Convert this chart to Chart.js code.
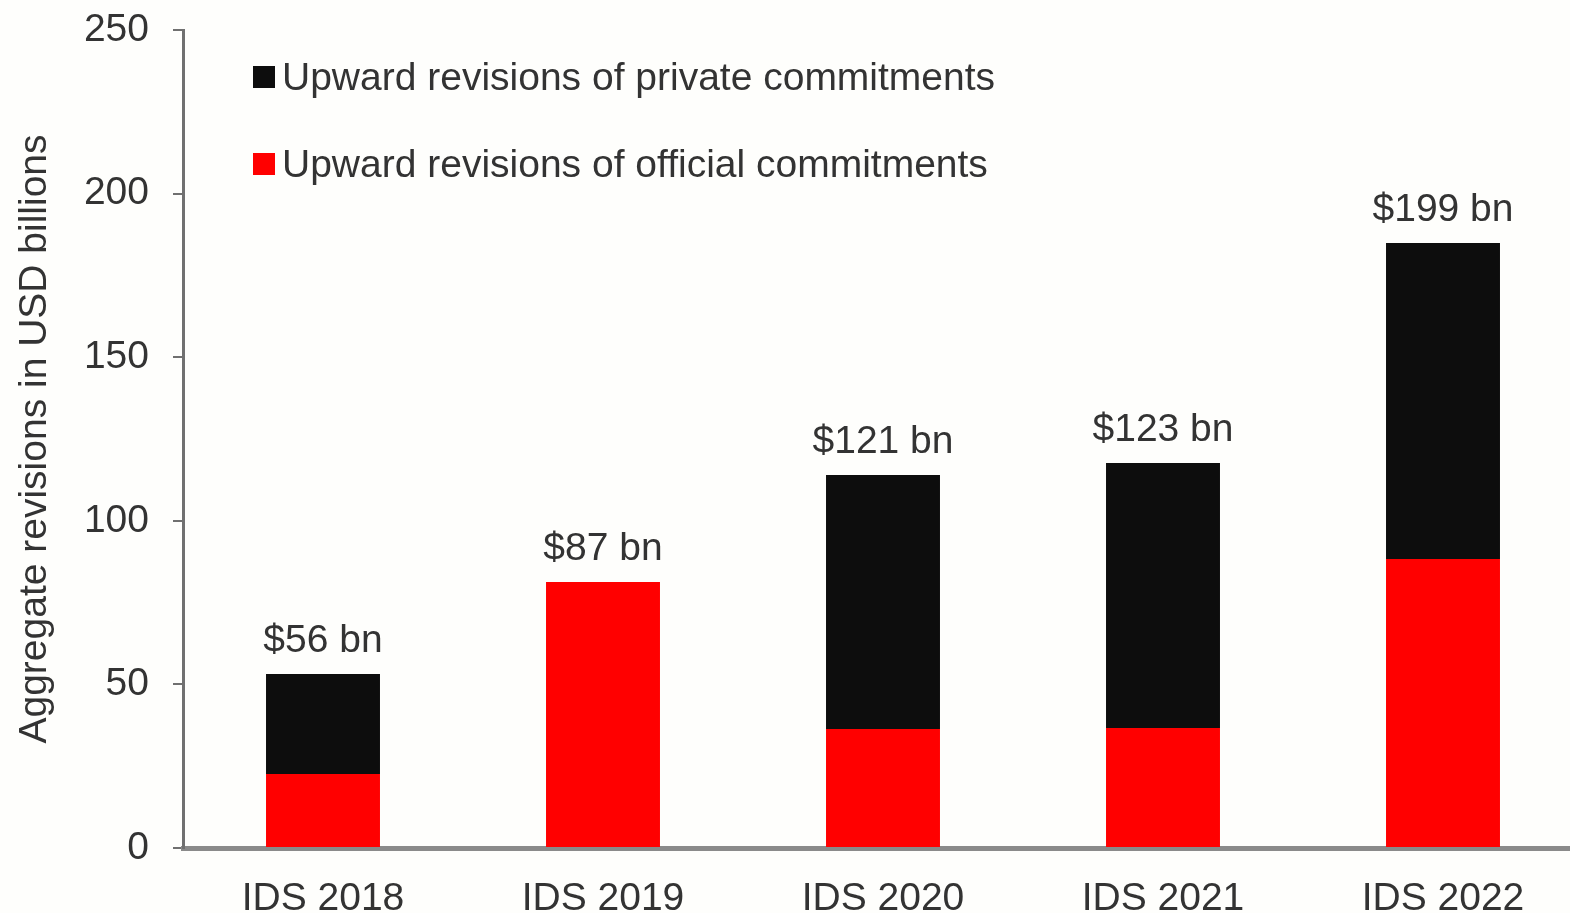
<!DOCTYPE html>
<html>
<head>
<meta charset="utf-8">
<script src="https://cdn.jsdelivr.net/npm/chart.js@4/dist/chart.umd.min.js"></script>
<style>
  html, body { margin: 0; padding: 0; background: #fefefc; overflow: hidden; }
  #wrap { width: 1583px; height: 913px; }
</style>
</head>
<body>
<div id="wrap"><canvas id="chart" width="1583" height="913"></canvas></div>
<script>
const categories = ['IDS 2018', 'IDS 2019', 'IDS 2020', 'IDS 2021', 'IDS 2022'];
const officialValues = [22.6, 81.3, 36.4, 36.7, 88.3];
const privateValues = [30.6, 0, 77.6, 81.0, 96.6];
const totalLabels = ['$56 bn', '$87 bn', '$121 bn', '$123 bn', '$199 bn'];
const yTicks = [0, 50, 100, 150, 200, 250];

const FONT = '"Liberation Sans", Arial, sans-serif';
const SIZE = 39;
const TEXT = '#333333';

// totals written above each stack
const totalsPlugin = {
    id: 'totals',
    afterDatasetsDraw(chart) {
        const { ctx, scales } = chart;
        ctx.save();
        ctx.font = SIZE + 'px ' + FONT;
        ctx.fillStyle = TEXT;
        ctx.textAlign = 'center';
        ctx.textBaseline = 'alphabetic';
        categories.forEach((c, i) => {
            const total = officialValues[i] + privateValues[i];
            const x = scales.x.getPixelForValue(i);
            const y = scales.y.getPixelForValue(total);
            ctx.fillText(totalLabels[i], x, y - 22);
        });
        ctx.restore();
    }
};

// legend sits inside the plot, top left
const legendPlugin = {
    id: 'insideLegend',
    afterDraw(chart) {
        const { ctx } = chart;
        const items = chart.data.datasets.slice().reverse();
        ctx.save();
        ctx.font = SIZE + 'px ' + FONT;
        ctx.textBaseline = 'alphabetic';
        ctx.textAlign = 'left';
        items.forEach((ds, k) => {
            const cy = 77 + k * 87;
            ctx.fillStyle = ds.backgroundColor;
            ctx.fillRect(253, cy - 11, 22, 22);
            ctx.fillStyle = TEXT;
            ctx.fillText(ds.label, 282, cy + 13);
        });
        ctx.restore();
    }
};

new Chart(document.getElementById('chart'), {
    type: 'bar',
    data: {
        labels: categories,
        datasets: [
            {
                label: 'Upward revisions of official commitments',
                data: officialValues,
                backgroundColor: '#ff0000',
                borderWidth: 0,
            },
            {
                label: 'Upward revisions of private commitments',
                data: privateValues,
                backgroundColor: '#0d0d0d',
                borderWidth: 0,
            },
        ],
    },
    options: {
        responsive: false,
        animation: false,
        devicePixelRatio: 1,
        layout: { padding: { top: 30, left: 0, right: 0, bottom: 0 } },
        datasets: { bar: { categoryPercentage: 1, barPercentage: 0.407 } },
        plugins: {
            legend: { display: false },
            tooltip: { enabled: false },
        },
        scales: {
            x: {
                stacked: true,
                grid: { display: false, drawTicks: false },
                border: { color: '#8a8a8a', width: 5 },
                ticks: { font: { family: FONT, size: SIZE }, color: TEXT, padding: 28, maxRotation: 0 },
                afterFit: (scale) => {
                    scale.height = 65;
                    scale.paddingLeft = 0;
                    scale.paddingRight = 0;
                },
            },
            y: {
                stacked: true,
                min: 0,
                max: 250,
                afterBuildTicks: (scale) => { scale.ticks = yTicks.map(v => ({ value: v })); },
                grid: { drawOnChartArea: false, drawTicks: true, tickLength: 10, color: '#707070', lineWidth: 2 },
                border: { color: '#707070', width: 3 },
                ticks: { font: { family: FONT, size: SIZE }, color: TEXT, padding: 24 },
                title: {
                    display: true,
                    text: 'Aggregate revisions in USD billions',
                    font: { family: FONT, size: SIZE },
                    color: TEXT,
                    padding: { top: 12, bottom: 0 },
                },
                afterFit: (scale) => {
                    scale.width = 183;
                    scale.paddingTop = 0;
                    scale.paddingBottom = 0;
                },
            },
        },
    },
    plugins: [totalsPlugin, legendPlugin],
});
</script>
</body>
</html>
